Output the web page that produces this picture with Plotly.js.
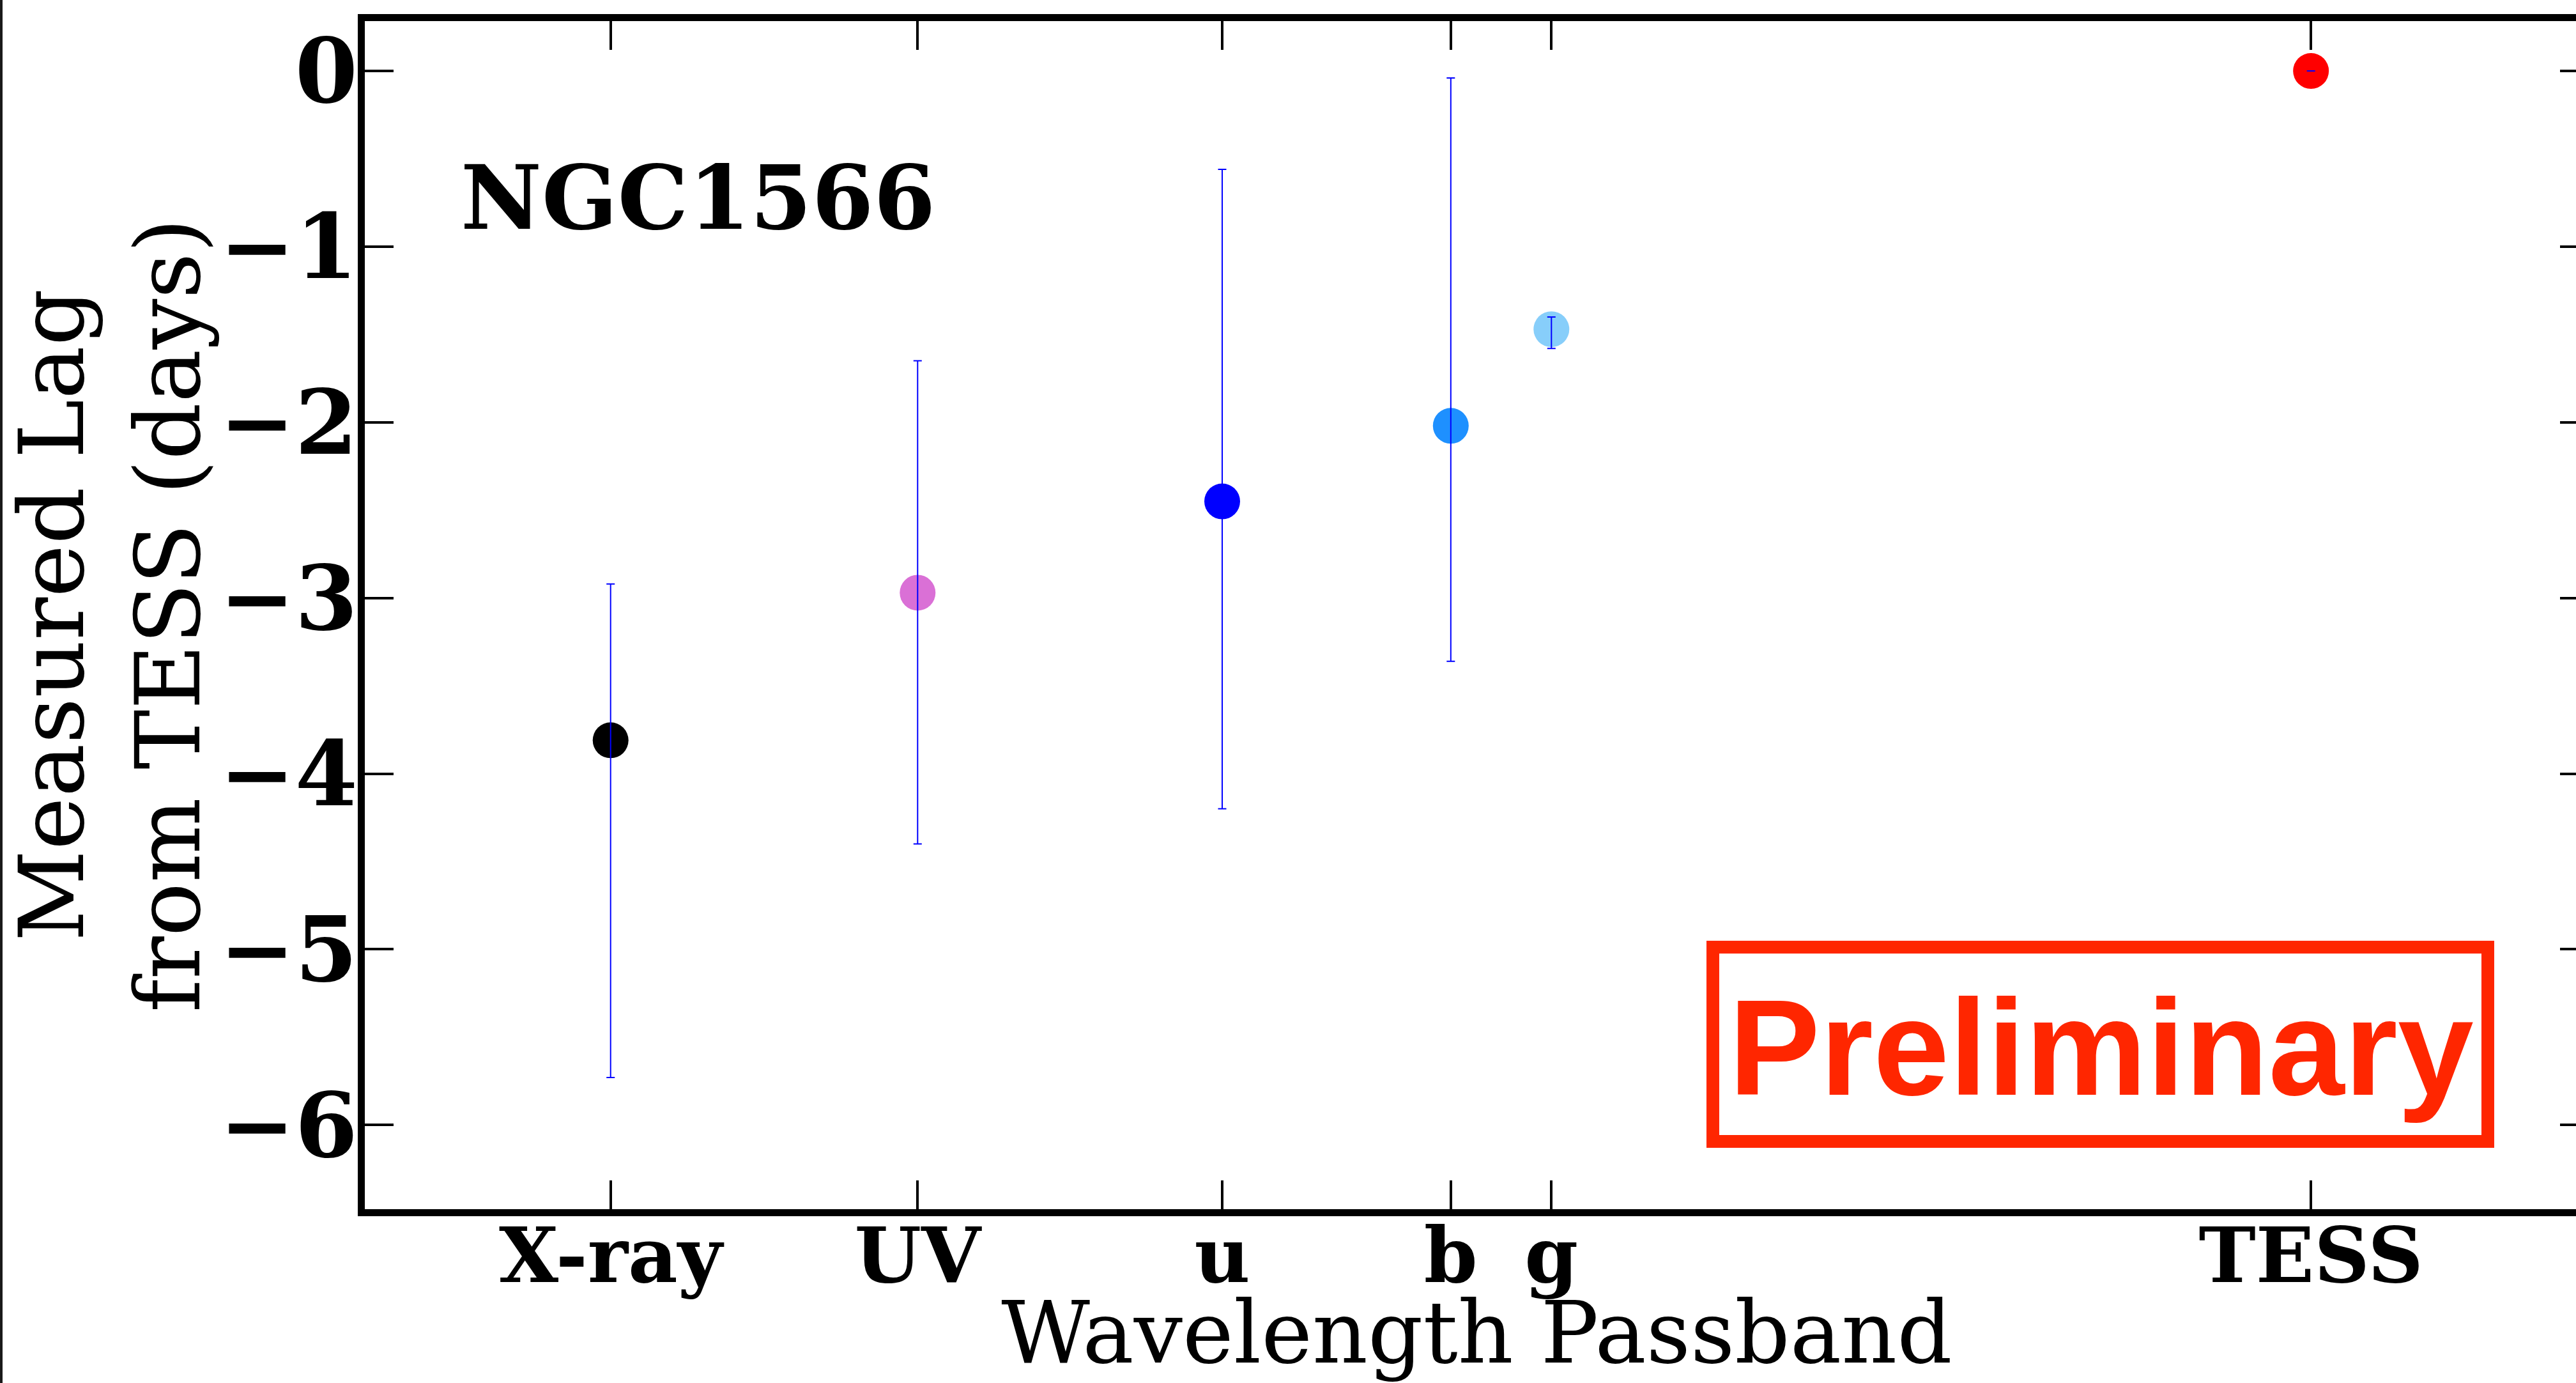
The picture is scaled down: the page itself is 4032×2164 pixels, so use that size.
<!DOCTYPE html>
<html><head><meta charset="utf-8">
<script src="https://cdn.plot.ly/plotly-3.0.1.min.js"></script>
<style>
html,body{margin:0;padding:0;overflow:hidden;background:#fff;width:4032px;height:2164px}
#chart{width:4080px;height:2164px}
</style>
</head><body><div id="chart"></div>
<script>
// ---- data ----
const passbands   = ['X-ray', 'UV', 'u', 'b', 'g', 'TESS'];
const wavelengths = [985, 2230, 3465, 4392, 4800, 7880];   // passband position (Angstrom)
const lags        = [-3.81, -2.97, -2.45, -2.02, -1.47, 0.0];
const errUpper    = [0.89, 1.32, 1.89, 1.98, 0.07, 0.0];
const errLower    = [1.92, 1.43, 1.75, 1.34, 0.11, 0.0];
const pointColors = ['#000000', '#da70d6', '#0000ff', '#1e90ff', '#87cefa', '#ff0000'];
const yTickVals   = [0, -1, -2, -3, -4, -5, -6];
const objectName  = 'NGC1566';
const stampText   = 'Preliminary';

// ---- geometry ----
const W = 4080, H = 2164;
const M = {l: 571, r: 28, t: 33, b: 272};
const plotW = W - M.l - M.r, plotH = H - M.t - M.b;
const px = v => (v - M.l) / plotW;
const py = v => (H - M.b - v) / plotH;
const serif = 'DejaVu Serif, serif';
const stampRed = '#ff2600';

const traces = [
  {
    x: wavelengths, y: lags, type: 'scatter', mode: 'markers',
    marker: {color: pointColors, size: 56, line: {width: 0}},
    showlegend: false, hoverinfo: 'x+y'
  },
  {
    x: wavelengths, y: lags, type: 'scatter', mode: 'markers',
    marker: {color: 'rgba(0,0,0,0)', size: 1},
    error_y: {type: 'data', symmetric: false, array: errUpper, arrayminus: errLower,
              color: '#0000ff', thickness: 2, width: 6.5},
    showlegend: false, hoverinfo: 'skip'
  }
];

const axisCommon = {
  showline: true, linewidth: 11, linecolor: '#000',
  ticks: 'inside', ticklen: 45, tickwidth: 4, tickcolor: '#000',
  mirror: 'allticks', showgrid: false, zeroline: false
};

const layout = {
  width: W, height: H, margin: M,
  paper_bgcolor: '#fff', plot_bgcolor: '#fff',
  font: {family: serif, color: '#000'},
  xaxis: Object.assign({}, axisCommon, {
    range: [-11.7, 9006.5],
    tickmode: 'array', tickvals: wavelengths, ticktext: passbands, tickangle: 0,
    ticklabelstandoff: -41,
    tickfont: {family: serif, size: 120, weight: 'bold', color: '#000'},
    title: {text: 'Wavelength Passband', font: {family: serif, size: 135, color: '#000'}, standoff: 18}
  }),
  yaxis: Object.assign({}, axisCommon, {
    range: [-6.479, 0.284],
    tickmode: 'array', tickvals: yTickVals,
    ticklabelstandoff: -28,
    tickfont: {family: serif, size: 141, weight: 'bold', color: '#000'},
    title: {text: 'Measured Lag<br>from TESS (days)', font: {family: serif, size: 140, color: '#000'}, standoff: 0}
  }),
  shapes: [
    {type: 'rect', xref: 'paper', yref: 'paper',
     x0: px(2681), x1: px(3894), y0: py(1786), y1: py(1482),
     line: {color: stampRed, width: 20}, fillcolor: 'rgba(0,0,0,0)'},
    {type: 'line', xref: 'paper', yref: 'paper',
     x0: px(2), x1: px(2), y0: py(0), y1: py(H),
     line: {color: '#1a1a1a', width: 4}}
  ],
  annotations: [
    {text: objectName, xref: 'paper', yref: 'paper', x: px(719), y: py(309),
     xanchor: 'left', yanchor: 'middle', showarrow: false,
     font: {family: serif, size: 139, weight: 'bold', color: '#000'}},
    {text: stampText, xref: 'paper', yref: 'paper', x: px(3289), y: py(1638),
     xanchor: 'center', yanchor: 'middle', showarrow: false,
     font: {family: 'Liberation Sans, Arial, sans-serif', size: 214, weight: 'bold', color: stampRed}}
  ]
};

Plotly.newPlot('chart', traces, layout, {staticPlot: true, displayModeBar: false});
</script>
</body></html>
